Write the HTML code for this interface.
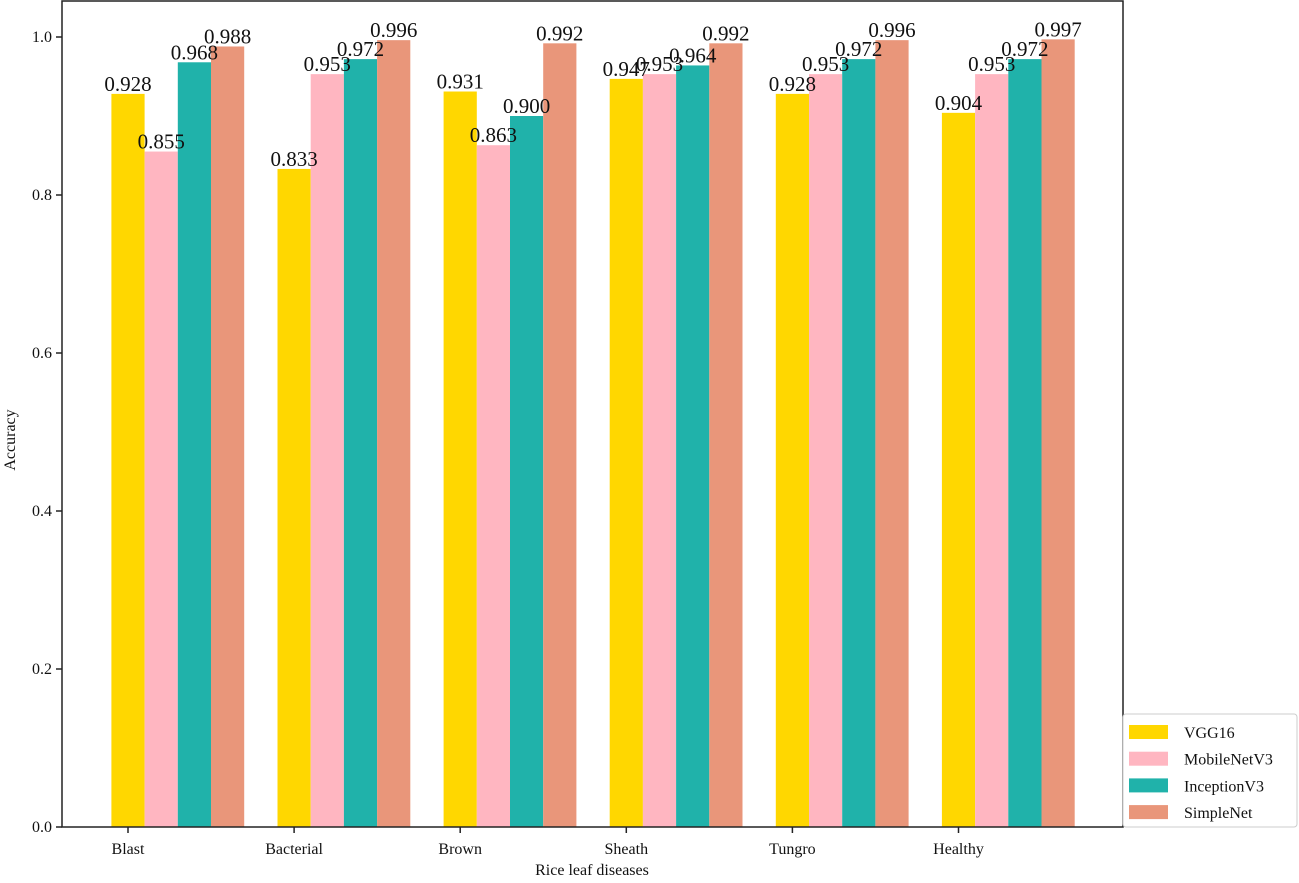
<!DOCTYPE html>
<html><head><meta charset="utf-8"><style>
body{margin:0;background:#fff}
svg text{font-family:"Liberation Serif",serif;fill:#111}
</style></head><body>
<svg width="1299" height="878">
<g id="bars"></g>
<g id="labels"></g>
<g id="axes"></g>
<text x="592" y="875" text-anchor="middle" font-size="16">Rice leaf diseases</text>
<text transform="translate(15,440) rotate(-90)" text-anchor="middle" font-size="16">Accuracy</text>
<g>
<rect x="1123" y="714" width="174" height="113" fill="#fff" stroke="#ccc" rx="3"/>
<g id="legend"></g>
</g>
</svg>
<script>
const categories=["Blast","Bacterial","Brown","Sheath","Tungro","Healthy"];
const seriesNames=["VGG16","MobileNetV3","InceptionV3","SimpleNet"];
const colors=["#FFD700","#FFB6C1","#20B2AA","#E9967A"];
const vgg16=[0.928,0.833,0.931,0.947,0.928,0.904];
const mobilenet=[0.855,0.953,0.863,0.953,0.953,0.953];
const inception=[0.968,0.972,0.900,0.964,0.972,0.972];
const simplenet=[0.988,0.996,0.992,0.992,0.996,0.997];
const yTicks=[0.0,0.2,0.4,0.6,0.8,1.0];
const series=[vgg16,mobilenet,inception,simplenet];
const NS="http://www.w3.org/2000/svg";
const L=62,R=1123,T=1,B=827;
function xs(i){return 128+166.1*i;}
function ys(v){return 827-790*v;}
const bw=33.2;
function mk(tag,attrs,parent){const e=document.createElementNS(NS,tag);for(const k in attrs)e.setAttribute(k,attrs[k]);parent.appendChild(e);return e;}
const gb=document.getElementById('bars'),gl=document.getElementById('labels'),ga=document.getElementById('axes'),gleg=document.getElementById('legend');
series.forEach((s,si)=>{s.forEach((v,ci)=>{
 const x=xs(ci)-bw/2+si*bw;
 const r=mk('rect',{x:x,y:ys(v),width:bw,height:ys(0)-ys(v),fill:colors[si]},gb);
 
 
 const t=mk('text',{x:x+bw/2,y:ys(v)-3,'text-anchor':'middle','font-size':'21'},gl);
 t.textContent=v.toFixed(3);
 
 
});});
mk('rect',{x:L,y:T,width:R-L,height:B-T,fill:'none',stroke:'#222','stroke-width':'1.5'},ga);
yTicks.forEach(v=>{
 mk('line',{x1:L-6,x2:L,y1:ys(v),y2:ys(v),stroke:'#222','stroke-width':'1.5'},ga);
 const t=mk('text',{x:L-10,y:ys(v)+5,'text-anchor':'end','font-size':'16'},ga);
 t.textContent=v.toFixed(1);
 
 
});
categories.forEach((c,i)=>{
 mk('line',{x1:xs(i),x2:xs(i),y1:B,y2:B+6,stroke:'#222','stroke-width':'1.5'},ga);
 const t=mk('text',{x:xs(i),y:B+27,'text-anchor':'middle','font-size':'16'},ga);
 t.textContent=c;
 
 
});
seriesNames.forEach((n,i)=>{
 const y=732+26.7*i;
 mk('rect',{x:1129,y:y-7,width:39,height:14,fill:colors[i]},gleg);
 const t=mk('text',{x:1184,y:y+6,'font-size':'16'},gleg);
 t.textContent=n;
 
 
});
</script>
</body></html>
